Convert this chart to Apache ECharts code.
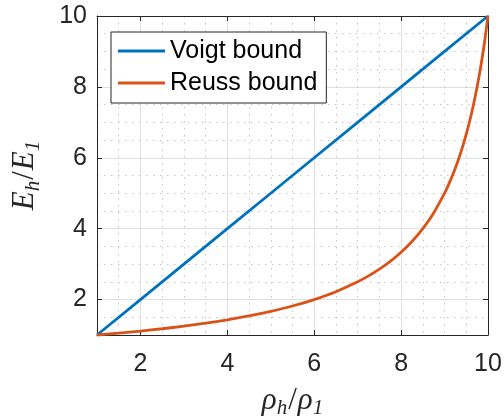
<!DOCTYPE html>
<html><head><meta charset="utf-8">
<script src="https://cdn.jsdelivr.net/npm/echarts@6/dist/echarts.min.js"></script>
<style>html,body{margin:0;padding:0;background:#fff}#c{width:504px;height:417px}</style>
</head><body><div id="c"></div>
<script>
// ---- data ----
const seriesNames = ['Voigt bound', 'Reuss bound'];
const voigtX = [1, 2, 3, 4, 5, 6, 7, 8, 9, 10];
const voigtY = [1, 2, 3, 4, 5, 6, 7, 8, 9, 10];
const reussX = [1, 1.5, 2, 2.5, 3, 3.5, 4, 4.5, 5, 5.5, 6, 6.5, 7, 7.25, 7.5, 7.75, 8, 8.25, 8.5, 8.75, 9, 9.1, 9.2, 9.3, 9.4, 9.5, 9.6, 9.7, 9.8, 9.9, 10];
const reussY = [1.000, 1.053, 1.111, 1.176, 1.250, 1.333, 1.429, 1.538, 1.667, 1.818, 2.000, 2.222, 2.500, 2.667, 2.857, 3.077, 3.333, 3.636, 4.000, 4.444, 5.000, 5.263, 5.556, 5.882, 6.250, 6.667, 7.143, 7.692, 8.333, 9.091, 10.000];
const xTicks = [2, 4, 6, 8, 10];
const yTicks = [2, 4, 6, 8, 10];
const xRange = [1, 10];
const yRange = [1, 10];
const xTitle = '{m|ρ}{s|h}{r|/}{m|ρ}{s|1}';
const yTitle = '{m|E}{s|h}{r|/}{m|E}{s|1}';

// ---- style ----
const axisColor = '#262626';
const labelFont = "'Liberation Sans', Arial, Helvetica, sans-serif";
const mathFont = "'Liberation Serif', 'DejaVu Serif', serif";
const majorGrid = '#e0e0e0';
const minorGrid = '#c4c4c4';
const rich = {
  m: { fontFamily: mathFont, fontStyle: 'italic', fontSize: 31, lineHeight: 38, color: '#262626' },
  r: { fontFamily: mathFont, fontSize: 31, lineHeight: 38, color: '#262626', padding: [0, 1, 0, 1] },
  s: { fontFamily: mathFont, fontStyle: 'italic', fontSize: 21, lineHeight: 22, padding: [16, 0, 0, 0], color: '#262626' }
};

function mainAxis(range, ticks, pos, title, gap, rot) {
  return {
    type: 'value', min: range[0], max: range[1], position: pos,
    axisLine: { show: true, onZero: false, lineStyle: { color: axisColor, width: 1 } },
    axisTick: { show: true, inside: true, length: 5, customValues: ticks, lineStyle: { color: axisColor } },
    axisLabel: { show: true, customValues: ticks, margin: pos === 'left' ? 10 : 17, fontSize: 25, color: axisColor, fontFamily: labelFont },
    splitLine: { show: true, lineStyle: { color: majorGrid, width: 1 } },
    name: title, nameLocation: 'middle', nameGap: gap, nameRotate: rot,
    nameTextStyle: { rich: rich }
  };
}
function minorAxis(range, pos) {
  return {
    type: 'value', min: range[0], max: range[1], interval: 0.5, position: pos,
    axisLine: { show: false }, axisTick: { show: false }, axisLabel: { show: false },
    splitLine: { show: true, lineStyle: { color: minorGrid, width: 1, type: [1.5, 5.5] } }
  };
}
function boxAxis(range, ticks, pos) {
  return {
    type: 'value', min: range[0], max: range[1], position: pos,
    axisLine: { show: true, onZero: false, lineStyle: { color: axisColor, width: 1 } },
    axisTick: { show: true, inside: true, length: 5, customValues: ticks, lineStyle: { color: axisColor } },
    axisLabel: { show: false }, splitLine: { show: false }
  };
}

const chart = echarts.init(document.getElementById('c'), null, { renderer: 'canvas' });
chart.setOption({
  animation: false,
  backgroundColor: '#fff',
  grid: { left: 97, right: 16, top: 16, bottom: 82, containLabel: false, outerBoundsMode: 'none' },
  xAxis: [
    minorAxis(xRange, 'bottom'),
    mainAxis(xRange, xTicks, 'bottom', xTitle, 46, 0),
    boxAxis(xRange, xTicks, 'top')
  ],
  yAxis: [
    minorAxis(yRange, 'left'),
    mainAxis(yRange, yTicks, 'left', yTitle, 53, 90),
    boxAxis(yRange, yTicks, 'right')
  ],
  legend: {
    left: 111, top: 32, orient: 'vertical', icon: 'rect',
    padding: [4, 9, 5, 7], itemWidth: 47, itemHeight: 3, itemGap: 2,
    borderColor: '#262626', borderWidth: 1, backgroundColor: '#fff',
    textStyle: { fontSize: 25, lineHeight: 30, color: '#000', fontFamily: labelFont },
    data: seriesNames
  },
  series: [
    {
      name: seriesNames[0], type: 'line', xAxisIndex: 1, yAxisIndex: 1,
      data: voigtX.map((x, i) => [x, voigtY[i]]),
      symbol: 'none', showSymbol: false, clip: false,
      lineStyle: { color: '#0072BD', width: 2.8 }, itemStyle: { color: '#0072BD' }
    },
    {
      name: seriesNames[1], type: 'line', xAxisIndex: 1, yAxisIndex: 1,
      data: reussX.map((x, i) => [x, reussY[i]]),
      symbol: 'none', showSymbol: false, clip: false, smooth: 0.3,
      lineStyle: { color: '#D95319', width: 2.8 }, itemStyle: { color: '#D95319' }
    }
  ]
});
</script>
</body></html>
